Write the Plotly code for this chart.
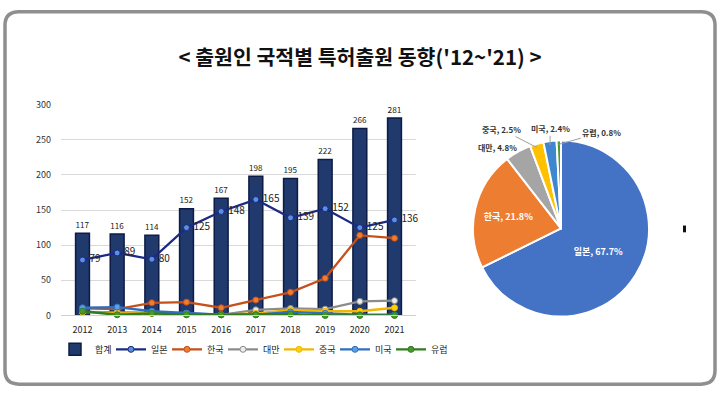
import math
import plotly.graph_objects as go

years = ["2012", "2013", "2014", "2015", "2016", "2017", "2018", "2019", "2020", "2021"]
total = [117, 116, 114, 152, 167, 198, 195, 222, 266, 281]
japan = [79, 89, 80, 125, 148, 165, 139, 152, 125, 136]
korea = [10, 9, 18, 19, 11, 22, 33, 53, 114, 110]
taiwan = [5, 5, 4, 3, 1, 8, 10, 9, 20, 21]
china = [5, 3, 3, 1, 1, 3, 8, 6, 6, 11]
usa = [11, 12, 6, 3, 1, 1, 5, 3, 1, 1]
europe = [6, 1, 3, 1, 1, 1, 2, 0, 0, 0]

pie_labels = ["일본", "한국", "대만", "중국", "미국", "유럽"]
pie_values = [67.7, 21.8, 4.8, 2.5, 2.4, 0.8]
pie_colors = ["#4472c4", "#ed7d31", "#a5a5a5", "#ffc000", "#3f86d0", "#4e9a2f"]

FONT = "Noto Sans CJK KR"
W, H = 720, 394

fig = go.Figure()

fig.add_trace(go.Bar(
    x=years, y=total, name="합계",
    marker=dict(color="#203a6e", line=dict(color="#0e1c45", width=1.5)),
    width=0.4,
    text=total, textposition="outside", cliponaxis=False,
    textfont=dict(size=10, color="#222222", family=FONT),
))

line_series = [
    ("일본", japan, "#1a2a85", "#5b8fe0"),
    ("한국", korea, "#c5501a", "#ee7d31"),
    ("대만", taiwan, "#8c8c8c", "#ececec"),
    ("중국", china, "#f2b600", "#ffd200"),
    ("미국", usa, "#2f6fc0", "#5aa0e8"),
    ("유럽", europe, "#2e7d1f", "#4a9a2a"),
]
for name, vals, lc, mc in line_series:
    if name == "일본":
        kw = dict(mode="lines+markers+text", text=vals, texttemplate=" %{text}",
                  textposition="middle right",
                  textfont=dict(size=10, color="#222222", family=FONT))
    else:
        kw = dict(mode="lines+markers")
    fig.add_trace(go.Scatter(
        x=years, y=vals, name=name,
        line=dict(color=lc, width=2.3),
        marker=dict(color=mc, size=6, line=dict(color=lc, width=1)),
        cliponaxis=False, **kw,
    ))

# pie geometry (layout)
cx, cy, r = 561, 229, 87
rd = 91  # domain half-size (plotly insets the pie slightly)
n_inside = 2
fig.add_trace(go.Pie(
    labels=pie_labels, values=pie_values,
    sort=False, direction="clockwise", rotation=0,
    marker=dict(colors=pie_colors, line=dict(color="white", width=2)),
    texttemplate=["<b>%{label}, %{value:.1f}%</b>"] * n_inside + [""] * (len(pie_values) - n_inside),
    textposition=["inside"] * n_inside + ["none"] * (len(pie_values) - n_inside),
    insidetextorientation="horizontal",
    insidetextfont=dict(size=9, color="white", family=FONT),
    domain=dict(x=[(cx - rd) / W, (cx + rd) / W], y=[1 - (cy + rd) / H, 1 - (cy - rd) / H]),
    showlegend=False,
))

# outside labels for small slices with leader lines
label_offsets = {"대만": (-21, -8, False), "중국": (-35, -18, True),
                 "미국": (0, -16, True), "유럽": (43, -12, True)}
tot = sum(pie_values)
cum = 0.0
for lab, val in zip(pie_labels, pie_values):
    mid = (cum + val / 2) / tot * 2 * math.pi
    cum += val
    if lab not in label_offsets:
        continue
    px = cx + r * math.sin(mid)
    py = cy - r * math.cos(mid)
    ax, ay, arrow = label_offsets[lab]
    txt = f"<b>{lab}, {val:.1f}%</b>"
    if arrow:
        fig.add_annotation(x=px / W, y=1 - py / H, xref="paper", yref="paper",
                           text=txt, showarrow=True,
                           arrowhead=0, arrowwidth=1, arrowcolor="#a0a0a0",
                           ax=ax, ay=ay, standoff=0,
                           font=dict(size=8, color="#333333", family=FONT))
    else:
        fig.add_annotation(x=(px + ax) / W, y=1 - (py + ay) / H, xref="paper", yref="paper",
                           xanchor="center", yanchor="middle",
                           text=txt, showarrow=False,
                           font=dict(size=8, color="#333333", family=FONT))

# rounded frame
x0, x1 = 5 / W, 715 / W
y0, y1 = 1 - 390 / H, 1 - 5 / H
rx, ry = 14 / W, 14 / H
path = (f"M {x0+rx},{y1} L {x1-rx},{y1} Q {x1},{y1} {x1},{y1-ry} "
        f"L {x1},{y0+ry} Q {x1},{y0} {x1-rx},{y0} L {x0+rx},{y0} "
        f"Q {x0},{y0} {x0},{y0+ry} L {x0},{y1-ry} Q {x0},{y1} {x0+rx},{y1} Z")
fig.add_shape(type="path", path=path, xref="paper", yref="paper",
              line=dict(color="#8f8f8f", width=3.5), layer="above")
fig.add_shape(type="rect", xref="paper", yref="paper",
              x0=683 / W, x1=686 / W, y0=1 - 233 / H, y1=1 - 226 / H,
              fillcolor="#111111", line=dict(width=0))

fig.update_layout(
    width=W, height=H,
    margin=dict(l=0, r=0, t=0, b=0),
    paper_bgcolor="white", plot_bgcolor="white",
    font=dict(family=FONT, color="#222222"),
    title=dict(text="<b>< 출원인 국적별 특허출원 동향('12~'21) ></b>",
               x=0.5, xanchor="center", y=1 - 58 / H, yanchor="middle",
               font=dict(size=20.5, color="#111111", family=FONT)),
    xaxis=dict(domain=[61 / W, 416 / W], type="category",
               showgrid=False, showline=True, linecolor="#d0d0d0",
               tickfont=dict(size=9, color="#222222"), ticks="",
               ticklabelstandoff=6),
    yaxis=dict(domain=[75 / H, 293 / H], range=[0, 300], dtick=50,
               showgrid=True, gridcolor="#d9d9d9", zeroline=False,
               tickfont=dict(size=9, color="#333333"), ticks="",
               ticklabelstandoff=9),
    legend=dict(orientation="h", x=55 / W, xanchor="left",
                y=40 / H, yanchor="middle",
                font=dict(size=9, color="#222222"),
                itemwidth=30, entrywidth=11, entrywidthmode="pixels"),
    bargap=0.6,
)

fig.write_html("out.html", config={"displayModeBar": False},
               post_script="document.body.style.margin='0';document.body.style.overflow='hidden';")
